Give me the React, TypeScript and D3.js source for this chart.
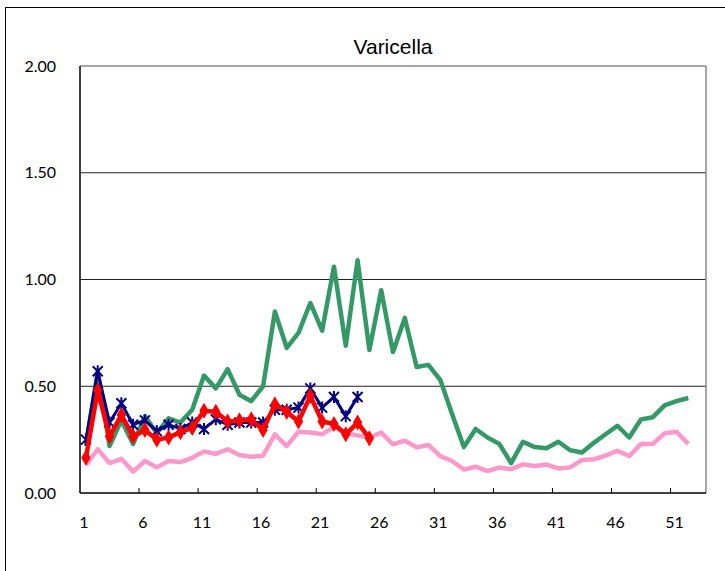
import React from 'react';
import * as d3 from 'd3';

const weeks = [
  1, 2, 3, 4, 5, 6, 7, 8, 9, 10, 11, 12, 13, 14, 15, 16, 17, 18, 19, 20,
  21, 22, 23, 24, 25, 26, 27, 28, 29, 30, 31, 32, 33, 34, 35, 36, 37, 38, 39, 40,
  41, 42, 43, 44, 45, 46, 47, 48, 49, 50, 51, 52, 53,
];
const tickWeeks = [1, 6, 11, 16, 21, 26, 31, 36, 41, 46, 51];
const yTicks = [0, 0.5, 1, 1.5, 2];

const greenSeries = [
  0.22, 0.57, 0.22, 0.34, 0.23, 0.36, 0.28, 0.35, 0.33, 0.39,
  0.55, 0.49, 0.58, 0.46, 0.43, 0.50, 0.85, 0.68, 0.75, 0.89,
  0.76, 1.06, 0.69, 1.09, 0.67, 0.95, 0.66, 0.82, 0.59, 0.60,
  0.53, 0.37, 0.215, 0.30, 0.26, 0.23, 0.14, 0.24, 0.215, 0.21,
  0.24, 0.20, 0.19, 0.235, 0.275, 0.315, 0.26, 0.345, 0.355, 0.41,
  0.43, 0.445,
];
const pinkSeries = [
  0.13, 0.205, 0.14, 0.16, 0.10, 0.15, 0.12, 0.15, 0.145, 0.165,
  0.195, 0.183, 0.205, 0.178, 0.17, 0.175, 0.275, 0.22, 0.287, 0.283,
  0.275, 0.31, 0.28, 0.27, 0.26, 0.283, 0.228, 0.245, 0.214, 0.225,
  0.173, 0.15, 0.11, 0.123, 0.103, 0.119, 0.112, 0.134, 0.126, 0.133,
  0.115, 0.12, 0.155, 0.158, 0.175, 0.198, 0.173, 0.23, 0.23, 0.28,
  0.287, 0.23,
];
const navySeries = [
  0.25, 0.57, 0.33, 0.42, 0.32, 0.34, 0.29, 0.32, 0.30, 0.33,
  0.30, 0.345, 0.32, 0.33, 0.33, 0.33, 0.39, 0.39, 0.40, 0.49,
  0.40, 0.45, 0.36, 0.45,
];
const redSeries = [
  0.165, 0.48, 0.265, 0.365, 0.265, 0.295, 0.25, 0.26, 0.285, 0.305,
  0.385, 0.38, 0.335, 0.34, 0.345, 0.295, 0.415, 0.38, 0.335, 0.455,
  0.335, 0.323, 0.275, 0.33, 0.256,
];

const W = 725;
const H = 571;
const M = { left: 80, right: 706, top: 66, bottom: 493 };
const labelFont = 'Lato, "DejaVu Sans", sans-serif';

export default function App() {
  const x = d3.scaleBand<number>().domain(weeks).range([M.left, M.right]).paddingInner(0).paddingOuter(0);
  const y = d3.scaleLinear().domain([0, 2]).range([M.bottom, M.top]);
  const cx = (w: number) => (x(w) ?? 0) + x.bandwidth() / 2;

  const line = d3.line<number>()
    .x((_, i) => cx(weeks[i]))
    .y(d => y(d));

  const diamond = d3.symbol().type(d3.symbolDiamond).size(75)();

  const star = (px: number, py: number) => {
    const r = 5;
    return `M${px - r},${py - r}L${px + r},${py + r}M${px - r},${py + r}L${px + r},${py - r}M${px},${py - r - 1}L${px},${py + r + 1}`;
  };

  return (
    <div style={{ position: 'fixed', left: 0, top: 0 }}>
      <svg width={W} height={H} style={{ display: 'block', background: '#fff' }}>
        <rect x={5.5} y={7.5} width={900} height={900} fill="#fff" stroke="#000" strokeWidth={1} />

        <text x={(M.left + M.right) / 2} y={54} textAnchor="middle"
          fontFamily='"Liberation Sans", Arial, sans-serif' fontSize={21} fill="#000">
          Varicella
        </text>

        {/* grid */}
        {yTicks.filter(t => t > 0 && t < 2).map(t => (
          <line key={t} x1={M.left} x2={M.right} y1={y(t)} y2={y(t)} stroke="#222" strokeWidth={1} />
        ))}
        <line x1={M.left} x2={M.right} y1={y(2)} y2={y(2)} stroke="#888" strokeWidth={1.5} />
        <line x1={M.right} x2={M.right} y1={M.top} y2={M.bottom} stroke="#888" strokeWidth={1.5} />

        {/* y labels */}
        {yTicks.map(t => (
          <text key={t} x={56} y={y(t)} dy="0.35em" textAnchor="end"
            fontFamily={labelFont} fontSize={16} fill="#000">
            {t.toFixed(2)}
          </text>
        ))}

        {/* x ticks and labels */}
        {tickWeeks.filter(w => w > 1).map(w => (
          <line key={w} x1={x(w)} x2={x(w)} y1={M.bottom} y2={M.bottom - 5} stroke="#000" strokeWidth={1} />
        ))}
        {tickWeeks.map(w => (
          <text key={w} x={cx(w) - 2} y={528} textAnchor="middle"
            fontFamily={labelFont} fontSize={16} fill="#000">
            {w}
          </text>
        ))}

        {/* series */}
        <path d={line(pinkSeries) ?? ''} fill="none" stroke="#ff99cc" strokeWidth={4.5} strokeLinejoin="round" />
        <path d={line(greenSeries) ?? ''} fill="none" stroke="#339966" strokeWidth={4.5} strokeLinejoin="round" />
        <path d={line(navySeries) ?? ''} fill="none" stroke="#000080" strokeWidth={3} strokeLinejoin="round" />
        {navySeries.map((v, i) => (
          <path key={i} d={star(cx(weeks[i]), y(v))} stroke="#000080" strokeWidth={2} fill="none" />
        ))}
        <path d={line(redSeries) ?? ''} fill="none" stroke="#ff0000" strokeWidth={4.5} strokeLinejoin="round" />
        {redSeries.map((v, i) => (
          <path key={i} d={diamond ?? ''} transform={`translate(${cx(weeks[i])},${y(v)})`} fill="#ff0000" />
        ))}

        {/* axes */}
        <line x1={M.left} x2={M.left} y1={M.top} y2={M.bottom} stroke="#000" strokeWidth={1.5} />
        <line x1={M.left} x2={M.right} y1={M.bottom} y2={M.bottom} stroke="#000" strokeWidth={1.5} />
      </svg>
    </div>
  );
}
